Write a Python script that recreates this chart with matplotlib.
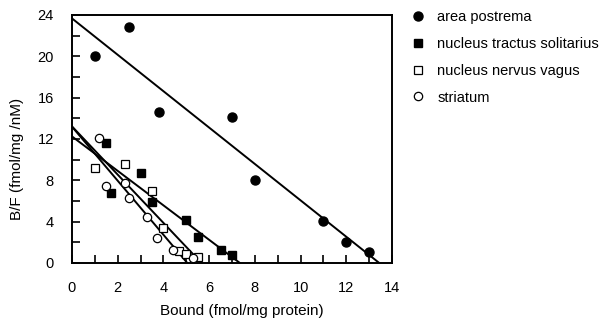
import matplotlib
matplotlib.use("Agg")
import matplotlib.pyplot as plt
import numpy as np
from matplotlib.ticker import MultipleLocator

plt.rcParams['font.family'] = ['Liberation Sans', 'DejaVu Sans']

# Scatchard data: bound (x) and B/F (y)
ap_x = [1.0, 2.5, 3.8, 7.0, 8.0, 11.0, 12.0, 13.0]
ap_y = [20.0, 22.8, 14.6, 14.1, 8.0, 4.1, 2.0, 1.1]

nts_x = [1.5, 1.7, 3.0, 3.5, 5.0, 5.5, 6.5, 7.0]
nts_y = [11.6, 6.8, 8.7, 5.9, 4.2, 2.5, 1.3, 0.8]

nnv_x = [1.0, 2.3, 3.5, 4.0, 4.7, 5.0, 5.5]
nnv_y = [9.2, 9.6, 7.0, 3.4, 1.2, 0.85, 0.6]

str_x = [1.2, 1.5, 2.3, 2.5, 3.3, 3.7, 4.4, 5.3]
str_y = [12.1, 7.5, 7.7, 6.3, 4.5, 2.4, 1.3, 0.45]

labels = ['area postrema', 'nucleus tractus solitarius',
          'nucleus nervus vagus', 'striatum']

fig = plt.figure(figsize=(6.05, 3.24), dpi=100)
ax = fig.add_axes([72 / 605, 61 / 324, 320 / 605, 248 / 324])

series = [
    (ap_x, ap_y, dict(marker='o', color='black', ms=6.5, mfc='black')),
    (nts_x, nts_y, dict(marker='s', color='black', ms=5.8, mfc='black')),
    (nnv_x, nnv_y, dict(marker='s', color='black', ms=5.8, mfc='white', mew=0.9)),
    (str_x, str_y, dict(marker='o', color='black', ms=6.0, mfc='white', mew=0.9)),
]

handles = []
for (x, y, style), lab in zip(series, labels):
    # least-squares Scatchard line, drawn from x=0 down to the x-intercept
    slope, icpt = np.polyfit(x, y, 1)
    xs = np.array([0, -icpt / slope])
    ax.plot(xs, icpt + slope * xs, color='black', lw=1.4, zorder=2)
    h, = ax.plot(x, y, ls='none', zorder=3, label=lab, **style)
    handles.append(h)

ax.set_xlim(0, 14)
ax.set_ylim(0, 24)
ax.xaxis.set_major_locator(MultipleLocator(2))
ax.xaxis.set_minor_locator(MultipleLocator(1))
ax.yaxis.set_major_locator(MultipleLocator(4))
ax.yaxis.set_minor_locator(MultipleLocator(2))
ax.tick_params(which='both', direction='in', length=6, width=1.2,
               top=False, right=False, labelsize=10.5, pad=13)
for sp in ax.spines.values():
    sp.set_linewidth(1.4)

ax.set_xlabel('Bound (fmol/mg protein)', fontsize=11)
ax.xaxis.set_label_coords(0.53, -0.165)
ax.set_ylabel('B/F (fmol/mg /nM)', fontsize=11)
ax.yaxis.set_label_coords(-0.15, 0.42)

fig.legend(handles=handles, loc='upper left', bbox_to_anchor=(411 / 605, 1 - 10 / 324),
           frameon=False, fontsize=10.5, handlelength=1.0, handletextpad=0.8,
           labelspacing=0.88, borderaxespad=0, borderpad=0)

fig.savefig('out.png', dpi=100)
